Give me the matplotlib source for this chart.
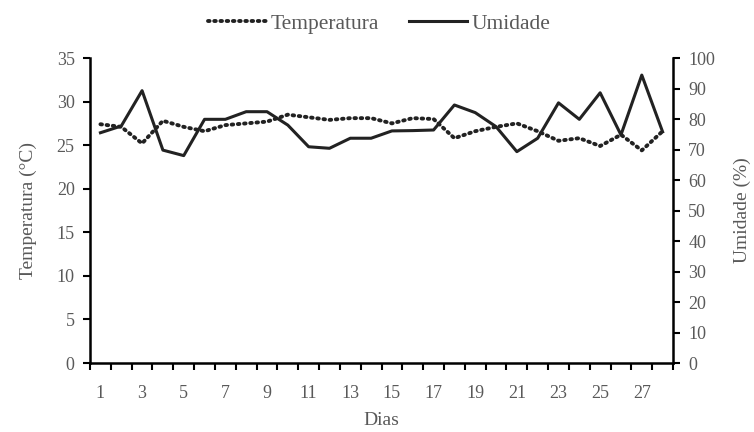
import matplotlib.pyplot as plt
import numpy as np
from matplotlib.ticker import FixedLocator, MultipleLocator

# ── data ──────────────────────────────────────────────────────────────────────
dias = list(range(1, 29))
temperatura = [27.4, 27.1, 25.2, 27.8, 27.1, 26.6, 27.3, 27.5, 27.7, 28.5,
               28.2, 27.9, 28.1, 28.1, 27.5, 28.1, 28.0, 25.8, 26.6, 27.1,
               27.5, 26.6, 25.5, 25.8, 24.9, 26.2, 24.4, 26.6]
umidade = [75.5, 77.7, 89.3, 69.8, 68.0, 79.9, 79.9, 82.4, 82.4, 78.0,
           70.9, 70.4, 73.7, 73.7, 76.1, 76.2, 76.4, 84.6, 82.1, 77.5,
           69.3, 73.7, 85.3, 79.9, 88.6, 74.8, 94.4, 75.8]
x_labels = [str(d) for d in dias[::2]]

# ── style ─────────────────────────────────────────────────────────────────────
plt.rcParams["font.family"] = ["Liberation Serif", "DejaVu Serif"]
txt = "#595959"
line_col = "#222222"

fig = plt.figure(figsize=(7.54, 4.32), dpi=100)
ax = fig.add_axes([0.1194, 0.1597, 0.7732, 0.7060])
ax2 = ax.twinx()

l1, = ax.plot(dias, temperatura, color=line_col, lw=2.8,
              linestyle=(0, (0.4, 1.2)), dash_capstyle="round",
              label="Temperatura")
l2, = ax2.plot(dias, umidade, color=line_col, lw=2.2, label="Umidade")

ax.set_xlim(0.5, 28.5)
ax.set_ylim(0, 35)
ax2.set_ylim(0, 100)
ax.yaxis.set_major_locator(MultipleLocator(5))
ax2.yaxis.set_major_locator(MultipleLocator(10))

# category axis: labels on odd days, tick marks between categories
ax.xaxis.set_major_locator(FixedLocator(dias[::2]))
ax.set_xticklabels(x_labels)
ax.xaxis.set_minor_locator(FixedLocator(np.arange(0.5, 29, 1)))
ax.tick_params(axis="x", which="major", length=0, pad=16)
ax.tick_params(axis="x", which="minor", length=5, width=1.5, color="black")

ax.tick_params(axis="y", length=5, width=1.5, color="black", pad=6)
ax2.tick_params(axis="y", length=5, width=1.5, color="black", pad=6)
for a in (ax, ax2):
    a.tick_params(labelsize=13, labelcolor=txt)
    a.spines["top"].set_visible(False)
    for s in ("left", "right", "bottom"):
        a.spines[s].set_linewidth(1.8)
        a.spines[s].set_color("black")
ax.spines["right"].set_visible(False)
ax2.spines["left"].set_visible(False)
ax2.spines["bottom"].set_visible(False)

ax.set_xlabel("Dias", fontsize=14, color=txt, labelpad=7)
ax.set_ylabel("Temperatura (°C)", fontsize=14, color=txt, labelpad=14)
ax2.set_ylabel("Umidade (%)", fontsize=14, color=txt, labelpad=13)

fig.legend([l1, l2], ["Temperatura", "Umidade"], loc="center",
           bbox_to_anchor=(0.503, 0.945), ncol=2, frameon=False, fontsize=15.5,
           handlelength=2.7, handletextpad=0.2, columnspacing=1.4,
           labelcolor=txt)

fig.savefig("out.png", dpi=100)
